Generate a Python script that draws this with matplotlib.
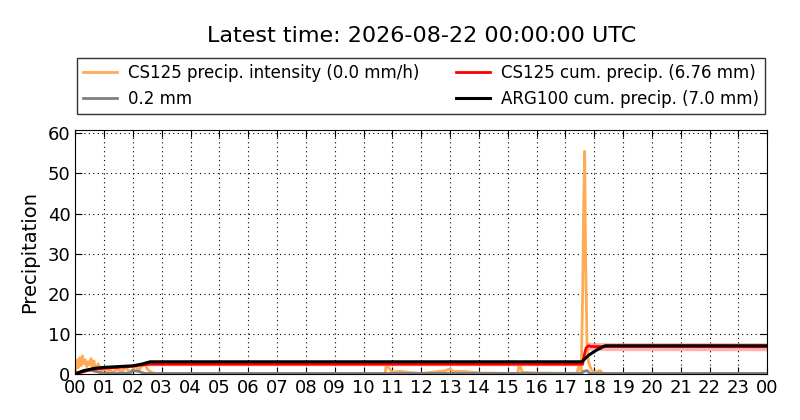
import numpy as np
import matplotlib
matplotlib.use("Agg")
import matplotlib.pyplot as plt

# CS125 precipitation intensity (mm/h), hours since 00 UTC
int_t = [0.0, 0.05, 0.1, 0.15, 0.2, 0.25, 0.3, 0.35, 0.4, 0.45, 0.5, 0.55, 0.6, 0.65,
         0.7, 0.8, 0.9, 1.0, 1.1, 1.2, 1.3, 1.45, 1.6, 1.75, 1.9, 2.0, 2.1, 2.2, 2.3,
         2.4, 2.5, 2.6, 2.7, 2.8, 4.95, 5.0, 5.1, 10.75, 10.8, 10.9, 11.0, 11.3, 11.6,
         12.0, 12.8, 13.0, 13.1, 13.5, 14.0, 15.35, 15.4, 15.5, 16.0, 17.4, 17.5,
         17.55, 17.6, 17.63, 17.67, 17.7, 17.75, 17.8, 17.9, 18.0, 18.2, 18.3, 24.0]
int_v = [0.0, 3.5, 1.5, 4.0, 2.0, 4.5, 2.5, 3.5, 1.8, 3.0, 2.2, 3.8, 1.5, 3.2,
         1.0, 2.5, 0.5, 1.2, 0.6, 1.0, 0.4, 1.2, 0.6, 1.5, 0.5, 1.0, 2.0, 0.8, 1.8,
         2.5, 1.2, 0.6, 0.2, 0.1, 0.1, 0.3, 0.1, 0.1, 2.8, 1.2, 0.5, 0.6, 0.3,
         0.1, 0.7, 1.2, 0.6, 0.6, 0.2, 0.1, 2.8, 0.4, 0.2, 0.1, 3.0,
         0.5, 20.0, 40.0, 55.5, 30.0, 8.0, 3.0, 1.0, 0.3, 0.8, 0.1, 0.1]

# 0.2 mm gauge series
gray_t = [0.0, 0.3, 0.5, 0.7, 1.0, 1.9, 2.0, 2.2, 2.4, 17.55, 17.65, 17.75, 17.85, 24.0]
gray_v = [0.0, 0.5, 1.0, 0.6, 0.1, 0.2, 0.8, 0.6, 0.1, 0.1, 0.6, 0.8, 0.1, 0.1]

# CS125 cumulative precipitation with uncertainty band
cs_t = [0.0, 0.3, 0.6, 1.0, 1.5, 2.0, 2.3, 2.6, 17.6, 17.65, 17.72, 17.8, 17.9, 24.0]
cs_v = [0.0, 0.6, 1.1, 1.4, 1.6, 1.9, 2.2, 2.4, 2.4, 4.5, 6.5, 7.0, 6.8, 6.76]
cs_lo = [0.0, 0.5, 0.9, 1.2, 1.4, 1.6, 1.9, 2.0, 2.0, 3.8, 5.5, 5.9, 5.8, 5.75]
cs_hi = [0.0, 0.7, 1.3, 1.6, 1.8, 2.2, 2.5, 2.8, 2.8, 5.2, 7.5, 8.0, 7.8, 7.77]

# ARG100 cumulative precipitation
arg_t = [0.0, 0.3, 0.7, 1.0, 1.5, 2.0, 2.3, 2.6, 17.57, 17.8, 18.1, 18.38, 24.0]
arg_v = [0.0, 0.8, 1.4, 1.6, 1.8, 2.0, 2.4, 3.0, 3.0, 4.6, 6.0, 7.0, 7.0]

hour_labels = ["%02d" % (h % 24) for h in range(25)]

fig = plt.figure(figsize=(8, 4.2), dpi=100)
ax = fig.add_axes([0.094, 0.11, 0.865, 0.58])

ax.fill_between(cs_t, cs_lo, cs_hi, color="red", alpha=0.3, linewidth=0)
ax.plot(int_t, int_v, color="#ffaa55", lw=2, label="CS125 precip. intensity (0.0 mm/h)")
ax.plot(gray_t, gray_v, color="gray", lw=2, label="0.2 mm")
ax.plot(cs_t, cs_v, color="red", lw=2, label="CS125 cum. precip. (6.76 mm)")
ax.plot(arg_t, arg_v, color="black", lw=2.2, label="ARG100 cum. precip. (7.0 mm)")

ax.set_xlim(0, 24)
ax.set_ylim(0, 60.8)
ax.set_xticks(range(25))
ax.set_xticklabels(hour_labels)
ax.set_yticks(range(0, 61, 10))
ax.tick_params(direction="in", top=True, right=True, labelsize=13, length=5)
ax.grid(True, color="black", linestyle=(0, (1, 3)), linewidth=0.8)
ax.set_ylabel("Precipitation", fontsize=14, labelpad=6)

ax.legend(loc="lower center", bbox_to_anchor=(0.5, 1.066), ncol=2, fontsize=12,
          frameon=True, fancybox=False, edgecolor="black", borderaxespad=0,
          handlelength=2.0, handletextpad=0.7, columnspacing=2.2, borderpad=0.35)
fig.text(0.527, 0.915, "Latest time: 2026-08-22 00:00:00 UTC", ha="center",
         va="center", fontsize=16)

fig.savefig("out.png", dpi=100)
